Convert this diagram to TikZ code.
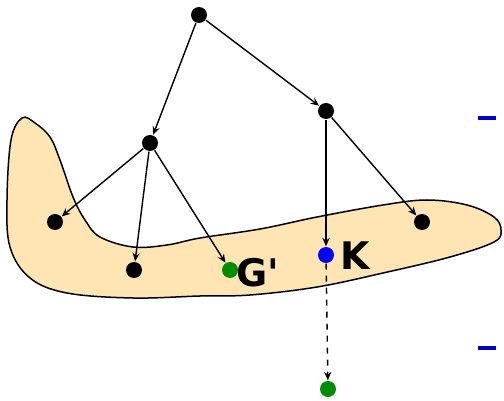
\documentclass[tikz,border=0pt]{standalone}
\usepackage{fontspec}
\newfontfamily\labelfont{DejaVu Sans}
\usetikzlibrary{arrows.meta}
\definecolor{peach}{RGB}{255,229,180}

\begin{document}
\begin{tikzpicture}[
  x=0.5pt, y=-0.5pt,
  >={Stealth[length=4.2pt, width=3.6pt]}, line width=0.7pt,
  vtx/.style   = {circle, fill=black, inner sep=0pt, minimum size=8pt},
  gvtx/.style  = {vtx, fill=green!55!black},
  bvtx/.style  = {vtx, fill=blue},
  lbl/.style   = {font=\labelfont\bfseries\fontsize{19}{22}\selectfont, inner sep=0pt},
]
  \useasboundingbox (0,0) rectangle (504,401);

  % ---- the shaded region ----
  \draw[fill=peach, line width=0.75pt]
    plot[smooth cycle, tension=0.6] coordinates {
      (22,118) (35,123) (50,137) (60,160) (73,197) (85,220) (100,237)
      (133,247) (167,245) (200,238) (260,229) (317,217) (383,205)
      (427,200) (467,205) (494,217) (501,230) (494,242) (450,257)
      (383,273) (317,287) (250,295) (200,296) (133,298) (67,293)
      (30,278) (10,247) (7,200) (11,140)};

  % ---- vertices ----
  \node[vtx]  (root) at (199,15)  {};
  \node[vtx]  (u)    at (150,143) {};
  \node[vtx]  (w)    at (326,111) {};
  \node[vtx]  (u1)   at (55,222)  {};
  \node[vtx]  (u2)   at (134,270) {};
  \node[gvtx] (g)    at (230,270) {};
  \node[bvtx] (k)    at (326,255) {};
  \node[vtx]  (w2)   at (422,222) {};
  \node[gvtx] (gk)   at (328,389) {};

  \node[lbl, anchor=west] (glbl) at (236,273) {G'};
  \node[lbl, anchor=west] (klbl) at (340,256) {K};

  % ---- edges ----
  \draw[->] (root) -- (u);
  \draw[->] (root) -- (w);
  \draw[->] (u) -- (u1);
  \draw[->] (u) -- (u2);
  \draw[->] (u) -- (g);
  \draw[->] (w) -- (k);
  \draw[->] (w) -- (w2);
  \draw[->, dashed] (k) -- (gk);

  % ---- bullet marks at the right edge ----
  \coordinate (m1a) at (478,118);
  \coordinate (m1b) at (496,118);
  \coordinate (m2a) at (478,348);
  \coordinate (m2b) at (496,348);
  \draw[blue!80!black, line width=2pt] (m1a) -- (m1b);
  \draw[blue!80!black, line width=2pt] (m2a) -- (m2b);
\end{tikzpicture}
\end{document}
